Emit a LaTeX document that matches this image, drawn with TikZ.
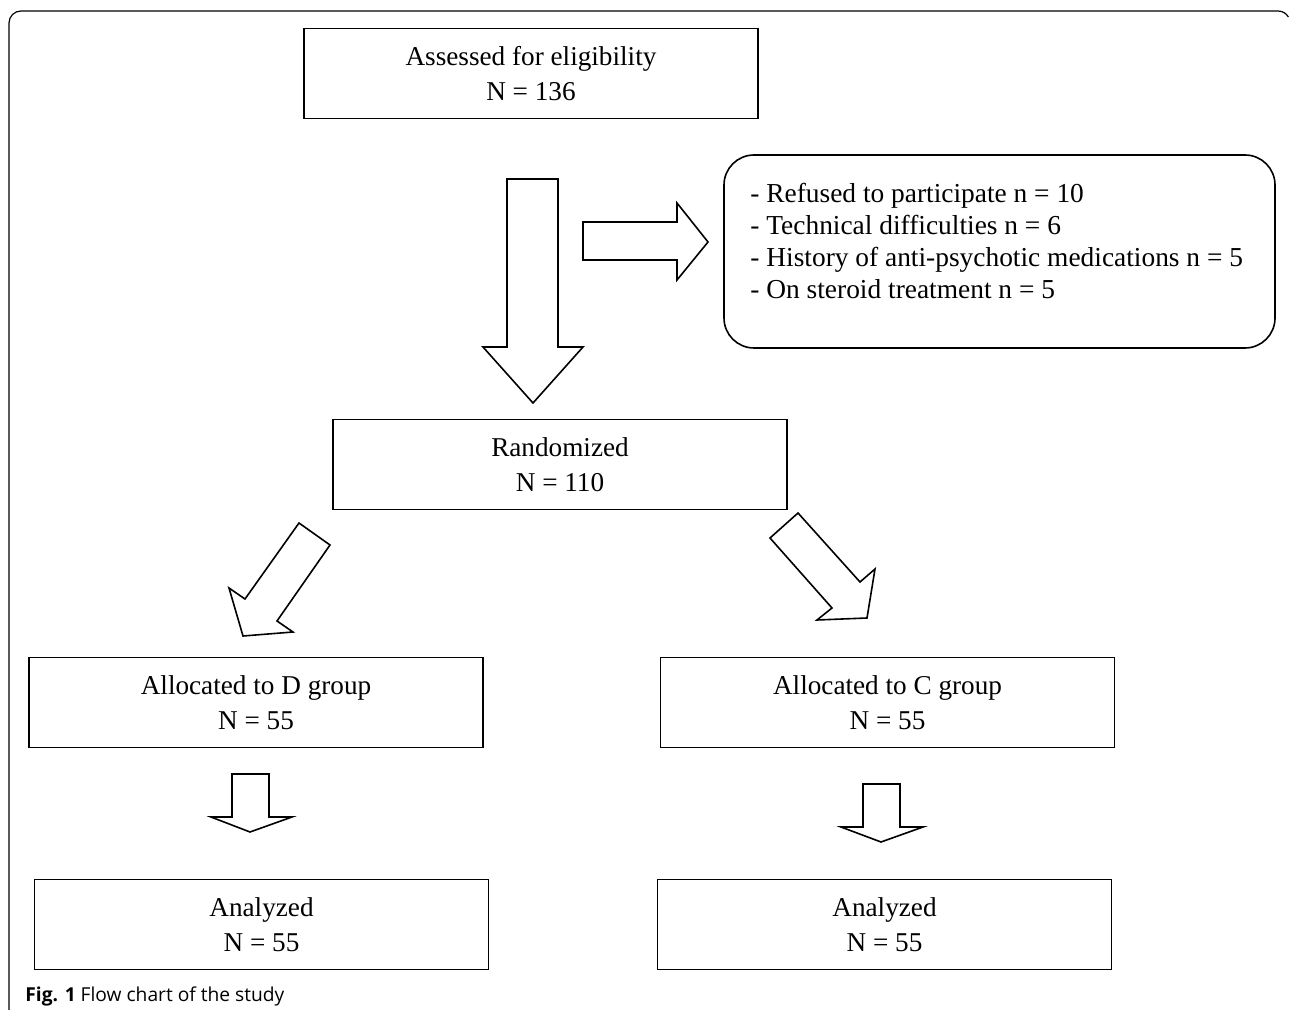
\documentclass[tikz,border=0pt]{standalone}
\usepackage{fontspec}
\setmainfont{Liberation Serif}
\newfontfamily\capfont{Open Sans}
\usepackage{tikz}

\begin{document}
\begin{tikzpicture}[x=0.5pt,y=0.5pt,yscale=-1,
  box/.style={draw, line width=0.8pt, minimum width=227pt, minimum height=45pt, inner sep=0pt, align=center,
    font=\fontsize{13.6}{17.5}\selectfont},
  blockarrow/.style={draw, line width=0.8pt, line join=miter, fill=white}]

\useasboundingbox (0,0) rectangle (1290,1010);

% outer frame
\draw [line width=0.6pt] (9,1010) -- (9,23) arc [start angle=180, end angle=270, radius=6pt] -- (1278,11) arc [start angle=270, end angle=330, radius=6pt];

% boxes
\node (assess) [box] at (531,73.5) {Assessed for eligibility\\N = 136};
\node (excl) [draw, line width=0.8pt, rounded corners=15pt, minimum width=275.5pt, minimum height=96.5pt] at (999.5,251.5) {};
\node (exclist) [anchor=west, align=left, inner sep=0pt, font=\fontsize{13.7}{16}\selectfont] at (750,241)
  {- Refused to participate n = 10\\- Technical difficulties n = 6\\- History of anti-psychotic medications n = 5\\- On steroid treatment n = 5};
\node (rand) [box] at (560,464.5) {Randomized\\N = 110};
\node (allocD) [box] at (256,702.5) {Allocated to D group\\N = 55};
\node (allocC) [box] at (887.5,702.5) {Allocated to C group\\N = 55};
\node (anaD) [box] at (261.5,924.5) {Analyzed\\N = 55};
\node (anaC) [box] at (884.5,924.5) {Analyzed\\N = 55};

% block arrows
\draw [blockarrow] (507,179) -- (558,179) -- (558,347) -- (583,347) -- (533,403) -- (483,347) -- (507,347) -- cycle;
\draw [blockarrow] (583,222) -- (677,222) -- (677,203) -- (708,242) -- (677,280) -- (677,260) -- (583,260) -- cycle;
\draw [blockarrow] (299,523) -- (330,545) -- (277,621) -- (293,632) -- (243,636) -- (229,588) -- (245,599) -- cycle;
\draw [blockarrow] (798,513) -- (770,538) -- (832,608) -- (817,620) -- (867,618) -- (875,569) -- (860,582) -- cycle;
\draw [blockarrow] (232,774) -- (269,774) -- (269,817) -- (292,817) -- (250,832) -- (211,817) -- (232,817) -- cycle;
\draw [blockarrow] (863,784) -- (900,784) -- (900,827) -- (923,827) -- (881,842) -- (841,827) -- (863,827) -- cycle;

% caption
\node (caption) [anchor=west, inner sep=0pt, font=\capfont\fontsize{9.6}{11}\selectfont] at (25,996)
  {\textbf{Fig. 1} Flow chart of the study};

\end{tikzpicture}
\end{document}
